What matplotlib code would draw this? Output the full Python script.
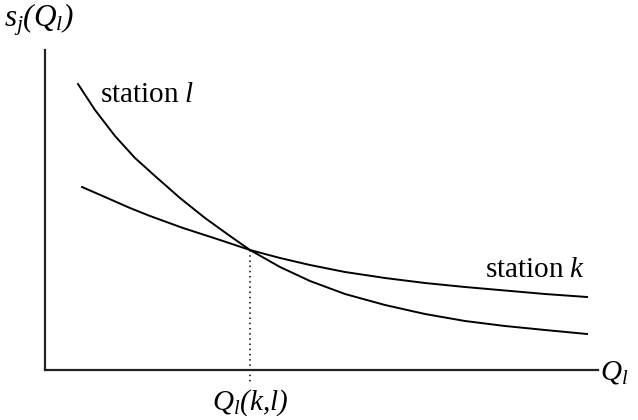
import matplotlib.pyplot as plt

plt.rcParams['font.family'] = 'Liberation Serif'
plt.rcParams['mathtext.fontset'] = 'custom'
plt.rcParams['mathtext.it'] = 'Liberation Serif:italic'
plt.rcParams['mathtext.rm'] = 'Liberation Serif:italic'

# curve values (Q_l, s_j)
q_l = [33, 50, 70, 90, 110, 135, 160, 185, 205, 235, 265, 300, 340, 380, 420, 460, 500, 542]
s_l = [286, 260, 234, 212, 194, 172, 152, 134, 120, 103, 89, 76, 65, 56, 49, 44, 40, 36]

q_k = [37, 60, 85, 105, 138, 172, 205, 235, 265, 300, 340, 380, 420, 460, 500, 542]
s_k = [183, 173, 162, 154, 142, 131, 120, 112, 105, 98, 92, 87, 83, 79.5, 76, 73]

q_cross = 205
s_cross = 120

fig = plt.figure(figsize=(6.38, 4.2), dpi=100)
ax = fig.add_axes([45 / 638, 50 / 420, 553 / 638, 320 / 420])
ax.set_xlim(0, 553)
ax.set_ylim(0, 320)

for side in ['top', 'right']:
    ax.spines[side].set_visible(False)
for side in ['left', 'bottom']:
    ax.spines[side].set_linewidth(1.6)
    ax.spines[side].set_color('#222222')
ax.set_xticks([])
ax.set_yticks([])

ax.plot(q_l, s_l, color='black', lw=1.4, clip_on=False, solid_joinstyle='round')
ax.plot(q_k, s_k, color='black', lw=1.4, clip_on=False, solid_joinstyle='round')
ax.plot([q_cross, q_cross], [s_cross, -13], color='black', lw=1.1,
        linestyle=(0, (1, 2.4)), clip_on=False)

fs = 21
ax.text(55, 275, r'station $l$', fontsize=fs, ha='left', va='center')
ax.text(540, 100, r'station $k$', fontsize=fs, ha='right', va='center')
ax.text(-41, 350, r'$s_j(Q_l)$', fontsize=22.5, ha='left', va='center', clip_on=False)
ax.text(555, -2, r'$Q_l$', fontsize=fs, ha='left', va='center', clip_on=False)
ax.text(q_cross, -33, r'$Q_l(k{,}l)$', fontsize=fs, ha='center', va='center', clip_on=False)

fig.savefig('out.png', dpi=100)
